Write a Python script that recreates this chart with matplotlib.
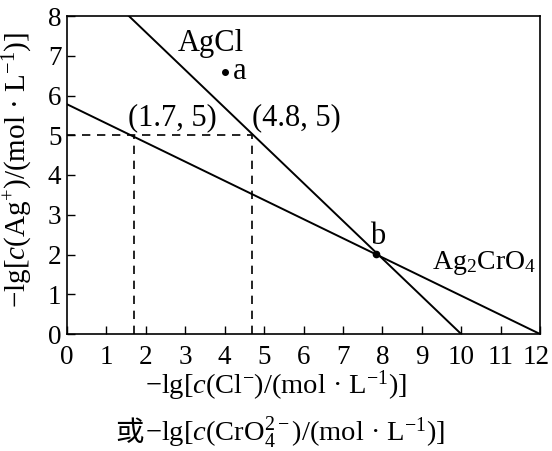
import matplotlib
matplotlib.use("Agg")
import matplotlib.pyplot as plt
import matplotlib.transforms as mtransforms

plt.rcParams['font.family'] = ['Liberation Serif', 'Noto Sans CJK SC']
plt.rcParams['mathtext.fontset'] = 'custom'
plt.rcParams['mathtext.rm'] = 'Liberation Serif'
plt.rcParams['mathtext.it'] = 'Liberation Serif:italic'

# data
agcl_x = [1.57, 10.0]
agcl_y = [8.0, 0.0]
ag2cro4_x = [0.0, 12.0]
ag2cro4_y = [5.78, 0.0]
dash_pts_x = [1.7, 4.7]
dash_level = 5.0
point_a = (4.0, 6.6)
point_b = (7.85, 2.02)
xticks = list(range(0, 13))
yticks = list(range(0, 9))

fig = plt.figure(figsize=(5.52, 4.51), dpi=100)
ax = fig.add_axes([67/552, 1-334/451, (540-67)/552, (334-16)/451])

ax.plot(agcl_x, agcl_y, color='black', lw=1.4)
ax.plot(ag2cro4_x, ag2cro4_y, color='black', lw=1.4)
ax.plot([0, dash_pts_x[1]], [dash_level, dash_level], color='black', lw=1.2, ls=(0, (5, 4)))
for xv in dash_pts_x:
    ax.plot([xv, xv], [0, dash_level], color='black', lw=1.2, ls=(0, (5, 4)))

ax.plot(*point_a, 'o', color='black', ms=4)
ax.plot(*point_b, 'o', color='black', ms=4.5)

fs = 20.5
tfs = 19.5
afs = 22
ax.text(2.8, 7.32, 'AgCl', fontsize=afs, va='center', ha='left')
ax.text(point_a[0] + 0.2, point_a[1], 'a', fontsize=afs, va='center', ha='left')
ax.text(1.55, 5.45, '(1.7, 5)', fontsize=afs, va='center', ha='left')
ax.text(4.7, 5.45, '(4.8, 5)', fontsize=afs, va='center', ha='left')
ax.text(7.7, 2.45, 'b', fontsize=afs, va='center', ha='left')
ax.text(9.25, 1.78, r'Ag$_2$CrO$_4$', fontsize=20, va='center', ha='left')

ax.set_xlim(0, 12)
ax.set_ylim(0, 8)
ax.set_xticks(xticks)
ax.set_yticks(yticks)
ax.tick_params(direction='in', length=6, width=1, labelsize=tfs)
ax.tick_params(axis='x', pad=8)
ax.tick_params(axis='y', pad=4)
for s in ax.spines.values():
    s.set_linewidth(1.2)

# nudge the last x tick label so it stays inside the figure
last = ax.get_xticklabels()[-1]
last.set_transform(last.get_transform() + mtransforms.ScaledTranslation(-4/100, 0, fig.dpi_scale_trans))

fig.text(276/552, 1-386/451, r'$-$lg[$c$(Cl$^{-}$)/(mol · L$^{-1}$)]',
         fontsize=fs, ha='center', va='center')
fig.text(130/552, 1-433/451, '或', fontsize=fs, ha='center', va='center',
         family=['Noto Sans CJK SC'])
fig.text(145/552, 1-433/451, r'$-$lg[$c$(CrO$_4^{2-}$)/(mol · L$^{-1}$)]',
         fontsize=fs, ha='left', va='center')
fig.text(18/552, 1-170/451, r'$-$lg[$c$(Ag$^{+}$)/(mol · L$^{-1}$)]',
         fontsize=21, ha='center', va='center', rotation=90)

fig.savefig('out.png', dpi=100)
